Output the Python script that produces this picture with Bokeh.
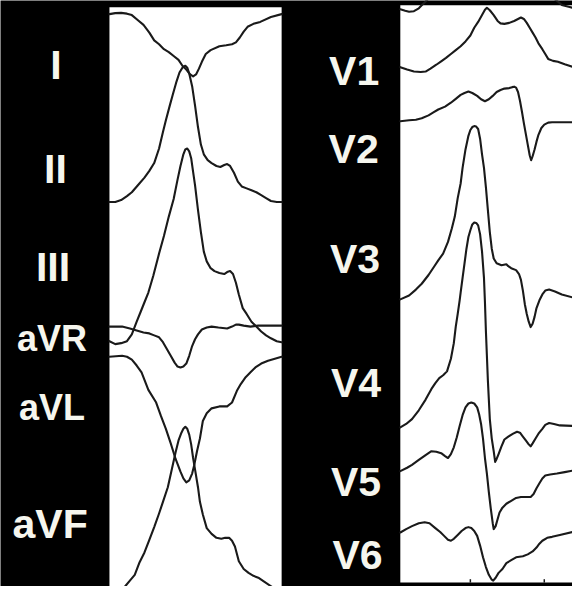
from bokeh.plotting import figure
from bokeh.models import Range1d
from bokeh.core.properties import value
from bokeh.embed import file_html
from bokeh.resources import INLINE

# ---- data: traces (image units: x across, y down) ----
# limb leads (left strip)
I_x = [112,118,124,130,135,141,147,153,158,163,168,173,178,183,187,191,195,198,201,204,207,211,216,225,232,238,242,246,250,254,260,267,278,289]
I_y = [14,13,12.7,13.5,15,20,25,33,41,45,50,53,57,61,67,71,76,78,76,70,63,55,51,47,46,45,43,38,32,27,24,22,17,14]

II_x = [112,118,124,130,135,141,148,153,158,163,167,170,174,177,181,184,187,190,192,194,197,200,203,206,209,213,217,222,226,230,233,236,240,244,248,253,258,263,268,273,278,284,289]
II_y = [207,207,205,201,197,190,182,175,167,152,135,123,108,97,83,74,69,67,69,75,88,108,130,148,158,164,167,170,171,169,168,170,177,186,191,193,195,197,200,203,206,207,207]

III_x = [112,118,124,130,135,140,144,148,152,157,163,168,173,178,182,185,188,190,192,194,196,198,200,203,206,209,212,216,220,225,230,233,236,239,242,245,249,253,258,263,268,273,278,284,289]
III_y = [350,353,352,350,343,330,320,310,300,283,260,242,222,204,184,170,158,153,152,155,162,176,190,215,238,258,268,275,278,280,281,279,278,281,290,302,316,322,330,335,340,344,347,350,351]

aVR_x = [112,125,133,140,147,153,158,163,167,171,175,179,182,185,188,191,194,197,200,203,207,212,217,224,233,238,242,245,250,257,265,273,281,289]
aVR_y = [335,335,337,339,341,342,344,346,351,358,365,372,376,377,376,373,365,355,348,343,338,336,335,336,337,335,333,333,334,335,334,334,334,334]

aVL_x = [112,125,130,135,140,145,152,160,165,170,175,180,185,188,191,194,197,199,202,205,208,212,217,225,233,238,243,247,252,257,262,268,275,282,289]
aVL_y = [366,365,366,369,375,382,400,413,427,440,455,471,484,491,495,493,486,478,463,450,432,424,419,417,417,413,401,394,387,382,377,373,370,368,366]

aVF_x = [120,128,133,138,143,148,153,158,163,167,172,176,180,183,186,188,190,192,194,196,198,200,203,205,208,212,217,222,227,231,235,238,241,245,250,255,260,265,271,277,284,292]
aVF_y = [614,602,596,590,577,567,554,541,527,515,500,482,464,452,444,440,438,440,446,456,470,482,500,515,528,542,548,552,553,552,552,555,561,576,584,588,591,593,597,601,606,612]

# precordial leads (right strip); the strip also shows the tail of a trace above V1
top_x = [411,416,420,425,430,433,436,440]
top_y = [9,10.5,11.5,11,8,5,2,-2]
top2_x = [570,574,577,580,584,588]
top2_y = [-1,2,4.5,5.5,6.5,7.5]

V1_x = [411,418,425,432,437,442,448,453,458,463,468,473,478,483,487,491,495,498,500,503,507,511,514,518,523,528,532,535,538,541,544,547,550,553,557,560,563,568,573,580,588]
V1_y = [68.5,71,73,73.5,73,70,66,62.5,59,55,51,47,42,36,28,22,15,9.5,7.5,10,15,21,23.5,24,23,21,19,17.5,19,23,28,33,38,44,50,55,60,62,63,65.5,68]

V2_x = [411,420,427,433,440,445,450,457,463,468,473,477,481,485,490,494,498,502,506,510,514,518,523,526,528,530,532,534,536,538,540,542,544,545.5,547,549,551,553,556,559,563,567,575,588]
V2_y = [124,123,122.5,121,118,115,112,109,105,101,97,95,93.5,95,98,101.5,103.5,101.5,98,94,92,90.5,90,89,88.5,89.5,94,103,114,126,137,148,159,164,160,153,145,138,131,127.5,125.5,125,125,125]

V3_x = [411,420,427,433,440,446,450,455,460,464,467,470,473,475,478,481,483,485,487,489,491,493,495,497,499,501,503,505,507,510,515,520,522,525,530,533,535,537,539,541,543,545,547,549,551,554,557,560,564,570,577,588]
V3_y = [307,303,297,291,282,273,267,260,248,234,222,203,188,172,153,139,133,130,129,129.5,132,142,158,172,192,215,238,255,265,270,272,271,273,275,277,281,287,298,312,322,330,335.5,332,325,316,308,302,298,297,299,302,305]

V4_x = [411,417,423,430,437,443,447,451,455,459,463,466,468,470,472,473,475,477,479,481,483,485,487,489,491,493,495,497,498,499,500,501,502,503,505,507,508.5,510,512,515,518,522,527,531,534,537,540,543,545,547,550,553,557,560,564,569,575,588]
V4_y = [438.5,435,430,421,410,399,393,388,385,381,368,352,335,322,308,300,285,270,255,243,236,230,228,228.5,231,240,258,285,310,340,365,390,410,430,450,463,474,471,466,458,451,448,445,443,444,448,452,456,458,455,450,445,440,436,434,435,436.5,437]

V5_x = [411,418,423,430,437,443,448,453,457,460,463,466,469,472,475,478,481,484,487,490,492,494,496,498,500,502,504,506,507,509,511,513,516,520,525,530,535,540,545,548,551,554,557,560,565,572,580,588]
V5_y = [483.5,480,477,472,467,463,463.5,465,468,470,466,459,449,437,426,418,414,413,414,418,425,435,450,470,486,505,522,537,543,540,533,526,521,517,514,511,510,510,510,507,501,496,491,488,487,486,484.5,483]

V6_x = [411,417,423,430,436,441,447,452,456,460,463,466,470,474,478,481,484,487,490,493,496,499,502,505,506.5,509,512,516,520,525,530,537,542,547,551,554,557,562,567,575,588]
V6_y = [546.5,543,540,537,536,537,542,546,550,554,555,553,549,545,542,541,542,545,550,560,572,582,590,595,596,593,588,584,578,575,572,571,569,566,562,558,555,552,551,549,546]

lead_names = ["I", "II", "III", "aVR", "aVL", "aVF", "V1", "V2", "V3", "V4", "V5", "V6"]

# ---- layout (not data) ----
label_pos = {
    "I": (57, 66, "41px"), "II": (56.5, 173, "41px"), "III": (54, 274, "41px"),
    "aVR": (53, 347, "36px"), "aVL": (53, 418, "36px"), "aVF": (51, 538, "41px"),
    "V1": (363.5, 72, "41px"), "V2": (363, 153, "41px"), "V3": (364.5, 266, "41px"),
    "V4": (365.5, 393, "41px"), "V5": (365.5, 495, "41px"), "V6": (367, 570, "41px"),
}
strip_left = [112, 411]
strip_right = [289, 588]
strip_top = [7, 5]
strip_bottom = [602, 598]
tick_x = [483, 559]

p = figure(width=572, height=586, x_range=Range1d(0, 588), y_range=Range1d(602, 0),
           output_backend="svg", toolbar_location=None, min_border=0,
           x_axis_location=None, y_axis_location=None)
p.grid.visible = False
p.outline_line_color = None
p.background_fill_color = "black"
p.border_fill_color = "black"

p.quad(left=strip_left, right=strip_right, top=strip_top, bottom=strip_bottom,
       fill_color="white", line_color=None)

traces = [(I_x, I_y), (II_x, II_y), (III_x, III_y), (aVR_x, aVR_y), (aVL_x, aVL_y),
          (aVF_x, aVF_y), (top_x, top_y), (top2_x, top2_y), (V1_x, V1_y), (V2_x, V2_y),
          (V3_x, V3_y), (V4_x, V4_y), (V5_x, V5_y), (V6_x, V6_y)]
for xs, ys in traces:
    p.line(xs, ys, line_color="#1a1a1a", line_width=2.1, line_join="round", line_cap="round")

p.segment(x0=tick_x, x1=tick_x, y0=[594.5] * len(tick_x), y1=[598] * len(tick_x),
          line_color="#1a1a1a", line_width=1.5)

for name in lead_names:
    x, y, size = label_pos[name]
    p.text(x=[x], y=[y], text=[name], text_color="#f6f6ee",
           text_font=value("Liberation Sans"), text_font_style="bold",
           text_font_size=size, text_align="center", text_baseline="alphabetic")

open("out.html", "w").write(file_html(p, INLINE))
